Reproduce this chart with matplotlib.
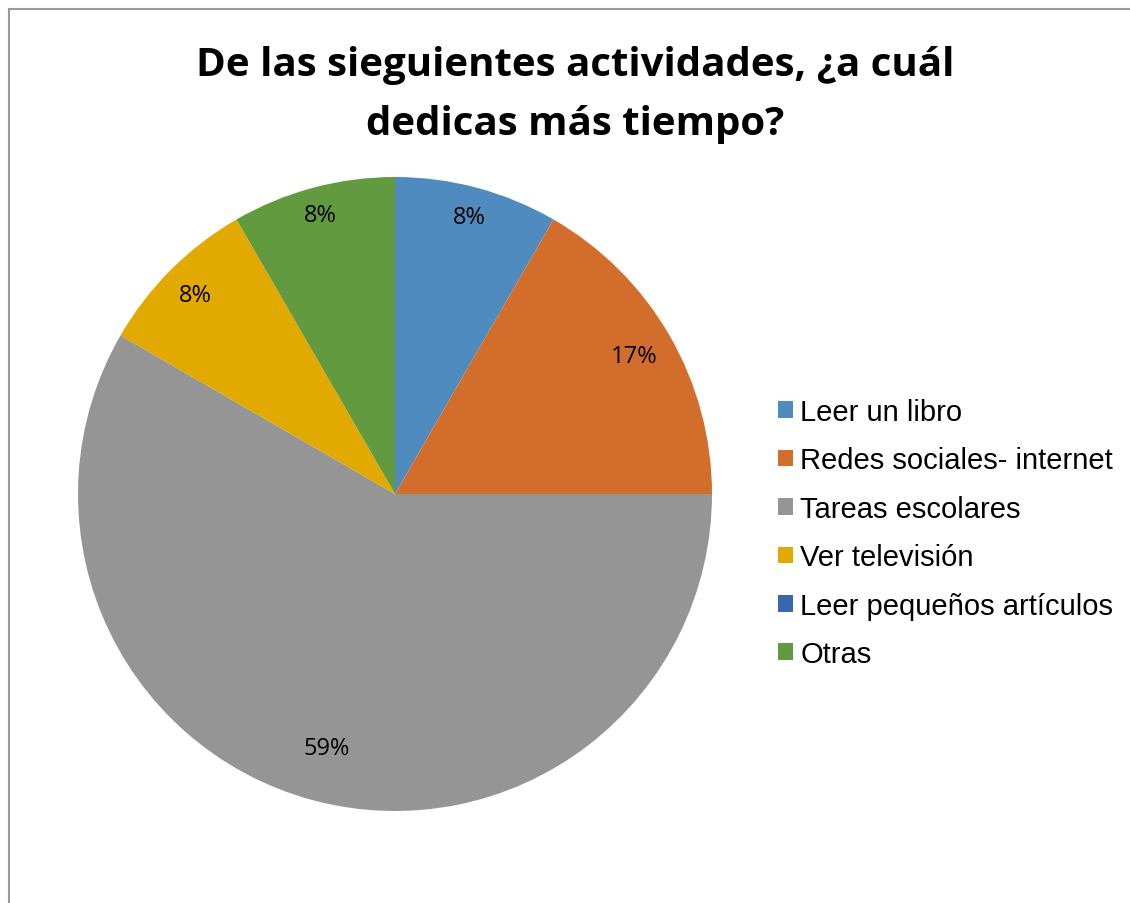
import matplotlib
matplotlib.use("Agg")
import matplotlib.pyplot as plt
from matplotlib.patches import Patch, Rectangle
import numpy as np

categories = ["Leer un libro", "Redes sociales- internet", "Tareas escolares",
              "Ver televisión", "Leer pequeños artículos", "Otras"]
counts = [1, 2, 7, 1, 0, 1]
label_texts = ["8%", "17%", "59%", "8%", "", "8%"]
colors = ["#4F8BBE", "#D36D2C", "#959595", "#E2A900", "#3A66AE", "#629A3F"]
label_dist = [0.905, 0.87, 0.83, 0.89, 0.9, 0.91]

fig = plt.figure(figsize=(11.30, 9.04), dpi=100)

# outer chart border
fig.patches.append(Rectangle((9 / 1130, -0.01), 1.02, 1 - 10 / 904 + 0.01,
                             transform=fig.transFigure, fill=False,
                             edgecolor="#9a9a9a", linewidth=1.5))

cx, cy, r = 395, 495, 317
ax = fig.add_axes([(cx - r) / 1130, 1 - (cy + r) / 904, 2 * r / 1130, 2 * r / 904])
wedges, _ = ax.pie(counts, colors=colors, startangle=90, counterclock=False,
                   radius=1, wedgeprops=dict(linewidth=0))
ax.set_xlim(-1, 1)
ax.set_ylim(-1, 1)
ax.set_aspect("equal")
ax.axis("off")

for w, t, d in zip(wedges, label_texts, label_dist):
    if not t:
        continue
    ang = np.deg2rad((w.theta1 + w.theta2) / 2)
    ax.text(d * np.cos(ang), d * np.sin(ang), t, ha="center", va="center",
            fontsize=17, family=["Open Sans", "DejaVu Sans"], color="#000000")

fig.text(0.509, 1 - 95 / 904, "De las sieguientes actividades, ¿a cuál\ndedicas más tiempo?",
         ha="center", va="center", fontsize=29, fontweight="bold",
         family=["Open Sans", "DejaVu Sans"], linespacing=1.65)

handles = [Patch(facecolor=c, edgecolor="none") for c in colors]
leg = fig.legend(handles, categories, loc="center left",
                 bbox_to_anchor=(778 / 1130, 1 - 534 / 904),
                 frameon=False, prop={"family": "Liberation Sans", "size": 21},
                 handlelength=0.5, handleheight=0.5, handletextpad=0.27,
                 labelspacing=0.70, borderpad=0, borderaxespad=0)

fig.savefig("out.png", dpi=100)
